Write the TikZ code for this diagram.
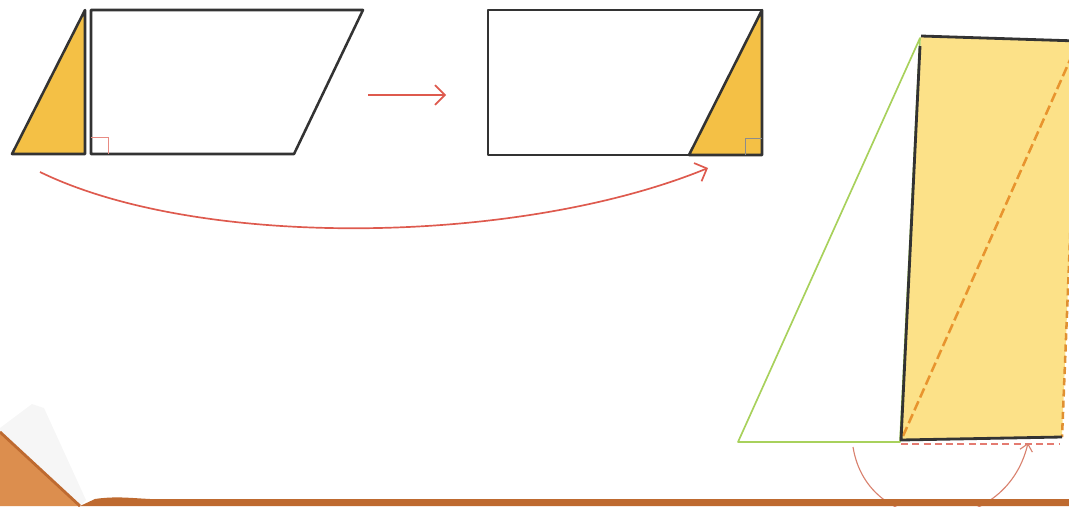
\documentclass[tikz,border=0pt]{standalone}
\usetikzlibrary{arrows.meta}
\definecolor{pieceyellow}{HTML}{F4C045}
\definecolor{paleyellow}{HTML}{FCE188}
\definecolor{movered}{HTML}{DE5A4E}
\definecolor{turnred}{HTML}{D9826F}
\definecolor{cutgreen}{HTML}{A8D15C}
\definecolor{cutorange}{HTML}{E8942E}
\definecolor{floorbrown}{HTML}{BE6A30}
\definecolor{floorlight}{HTML}{DC8E4E}
\begin{document}
\begin{tikzpicture}
		[x=0.025cm,y=-0.025cm,
		outline/.style={draw=black!80,line width=1.8pt,line join=round},
		move/.style={movered,line width=1.2pt,-{Straight Barb[length=7pt,width=14pt]}},
		rightmark/.style={line width=0.5pt}] % pixel-like coordinates, y grows downwards
		
		\useasboundingbox (0,0) rectangle (1069,506);
		
		% parallelogram with the piece cut off
		\coordinate (p1) at (12,154);
		\coordinate (p2) at (85,154);
		\coordinate (p3) at (85,10);
		\coordinate (q1) at (91,10);
		\coordinate (q2) at (363,10);
		\coordinate (q3) at (294,154);
		\coordinate (q4) at (91,154);
		
		\filldraw [outline,fill=pieceyellow] (p1) -- (p2) -- (p3) -- cycle;
		\draw [outline] (q1) -- (q2) -- (q3) -- (q4) -- cycle;
		\draw [rightmark,movered!70] (91,137) -- (108,137) -- (108,154);
		
		% rectangle after the move
		\coordinate (r1) at (488,10);
		\coordinate (r2) at (762,10);
		\coordinate (r3) at (762,155);
		\coordinate (r4) at (488,155);
		\coordinate (s1) at (689,155);
		
		\filldraw [outline,fill=pieceyellow] (s1) -- (r3) -- (r2) -- cycle;
		\draw [outline] (r1) -- (r2) -- (r3) -- (r4) -- cycle;
		\draw [rightmark,black!45] (745,155) -- (745,138) -- (762,138);
		
		% arrows
		\coordinate (a1) at (368,95);
		\coordinate (a2) at (446,95);
		\coordinate (b1) at (40,172);
		\coordinate (b2) at (708,168);
		\draw [move] (a1) -- (a2);
		\draw [move] (b1) .. controls (200,250) and (520,245) .. (b2);
		
		% turned figure on the right
		\begin{scope}
			\clip (0,0) rectangle (1069,506);
			\coordinate (c1) at (921,36);
			\coordinate (c2) at (1078,41);
			\coordinate (c3) at (1062,437);
			\coordinate (c4) at (901,440);
			\coordinate (g1) at (738,442);
			\coordinate (g2) at (900,442);
			\coordinate (g3) at (920,38);
			
			\fill [paleyellow] (c1) -- (c2) -- (c3) -- (c4) -- cycle;
			\draw [cutorange!80!brown,line width=1.8pt,dash pattern=on 5pt off 3pt] (c2) -- (c3);
			\draw [cutorange,line width=1.8pt,dash pattern=on 7pt off 3pt] (903,436) -- (1070,60);
			\draw [movered!80,line width=1.2pt,dash pattern=on 5pt off 3pt] (901,444) -- (1060,444);
			\draw [cutgreen,line width=1.2pt,line join=round] (g1) -- (g2) -- (g3) -- cycle;
			\draw [outline,line width=2pt] (c1) -- (c2);
			\draw [outline,line width=2pt] (920,46) -- (c4) -- (c3);
			
			\coordinate (d1) at (853,447);
			\coordinate (d2) at (1028,443);
			\draw [turnred,line width=0.8pt,-{Straight Barb[length=5pt,width=9pt]}] (d1) .. controls (868,540) and (1005,540) .. (d2);
			
			% floor and corner
			\fill [gray!7] (0,428) -- (32,404) -- (44,408) -- (86,500) -- (80,506) -- (0,506) -- cycle;
			\fill [floorlight] (0,432) -- (80,506) -- (0,506) -- cycle;
			\draw [floorbrown,line width=2pt] (0,432) -- (80,506);
			\fill [floorbrown] (80,506) -- (95,499) .. controls (115,496) and (130,498) .. (150,499) -- (1069,499) -- (1069,506) -- cycle;
		\end{scope}
		
	\end{tikzpicture}
\end{document}
